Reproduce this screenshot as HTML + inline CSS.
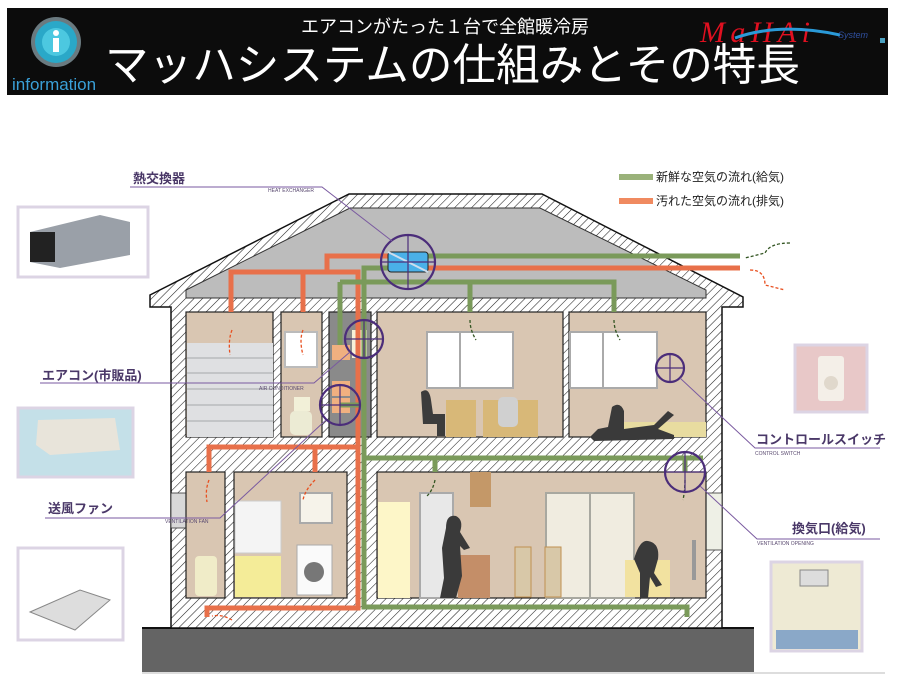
<!DOCTYPE html>
<html><head><meta charset="utf-8"><style>
body{margin:0;background:#fff;}
svg{display:block;font-family:"Liberation Sans","Noto Sans CJK JP",sans-serif;}
</style></head><body>
<svg width="903" height="685" viewBox="0 0 903 685" xmlns="http://www.w3.org/2000/svg">
<defs>
<pattern id="h" width="6" height="6" patternUnits="userSpaceOnUse" patternTransform="rotate(45)">
<rect width="6" height="6" fill="#fff"/><line x1="0" y1="0" x2="0" y2="6" stroke="#222" stroke-width="1.1"/>
</pattern>
</defs>
<rect width="903" height="685" fill="#fff"/>
<!-- header -->
<rect x="7" y="8" width="881" height="87" fill="#0c0c0c"/>
<circle cx="56" cy="42" r="25" fill="#6a7a80"/>
<circle cx="56" cy="42" r="21" fill="#2aa8c8"/>
<circle cx="56" cy="42" r="14" fill="#4cc8e0"/>
<circle cx="56" cy="33" r="3" fill="#fff"/>
<rect x="53" y="38" width="6" height="14" fill="#fff"/>
<text x="12" y="90" font-size="17" fill="#3aa0d8">information</text>
<text x="445" y="33" font-size="18" fill="#fff" text-anchor="middle" font-family="Liberation Sans,Noto Sans CJK JP,sans-serif">エアコンがたった１台で全館暖冷房</text>
<text x="105" y="80" font-size="44" fill="#fff" textLength="695" lengthAdjust="spacingAndGlyphs" font-family="Liberation Sans,Noto Sans CJK JP,sans-serif">マッハシステムの仕組みとその特長</text>
<text x="700" y="42" font-size="30" fill="#e01020" font-style="italic" font-family="Liberation Serif,serif" textLength="110">MaHAi</text>
<path d="M735 38 Q780 22 840 35" stroke="#2a9ad8" stroke-width="3" fill="none"/>
<text x="838" y="38" font-size="9" fill="#3050a0" font-style="italic">System</text>
<rect x="880" y="38" width="5" height="5" fill="#4aa0c0"/>

<!-- ground -->
<rect x="142" y="628" width="612" height="44" fill="#646464"/>
<line x1="142" y1="628" x2="754" y2="628" stroke="#111" stroke-width="2"/>
<line x1="142" y1="673" x2="885" y2="673" stroke="#ddd" stroke-width="2"/>

<!-- house body hatched -->
<path d="M150,295 L349,194 L542,194 L743,297 L743,307 L722,307 L722,628 L171,628 L171,307 L150,307 Z" fill="url(#h)" stroke="#111" stroke-width="1.5"/>
<path d="M186,290 L350,208 L540,208 L706,290 L706,298 L186,298 Z" fill="#bcbcbc" stroke="#333" stroke-width="1"/>
<!-- wall openings -->
<rect x="171" y="493" width="15" height="35" fill="#d8d8d8" stroke="#333" stroke-width="0.8"/>
<rect x="706" y="493" width="16" height="57" fill="#eef0e6" stroke="#333" stroke-width="0.8"/>

<!-- rooms 2F -->
<g fill="#d9c6b2" stroke="#222" stroke-width="1.2">
<rect x="186" y="312" width="87" height="125"/>
<rect x="281" y="312" width="41" height="125"/>
<rect x="377" y="312" width="186" height="125"/>
<rect x="569" y="312" width="137" height="125"/>
<rect x="186" y="472" width="39" height="126"/>
<rect x="234" y="472" width="113" height="126"/>
<rect x="377" y="472" width="329" height="126"/>
</g>
<rect x="329" y="312" width="42" height="125" fill="#8a8a8a" stroke="#222" stroke-width="1.2"/>

<!-- room1 shutter panel -->
<rect x="187" y="343" width="86" height="94" fill="#dfe0e2"/>
<g stroke="#b8babd" stroke-width="1.5"><line x1="187" y1="358" x2="273" y2="358"/><line x1="187" y1="373" x2="273" y2="373"/><line x1="187" y1="389" x2="273" y2="389"/><line x1="187" y1="405" x2="273" y2="405"/><line x1="187" y1="421" x2="273" y2="421"/></g>
<!-- room2 window + toilet -->
<rect x="285" y="332" width="32" height="35" fill="#fff" stroke="#bbb" stroke-width="2"/>
<rect x="294" y="397" width="16" height="14" fill="#f2f0d8"/>
<rect x="290" y="411" width="22" height="24" rx="5" fill="#ecebd4"/>
<!-- shaft boxes -->
<rect x="332" y="345" width="18" height="15" fill="#f0b080"/>
<rect x="332" y="381" width="18" height="15" fill="#f0b080"/>
<rect x="332" y="398" width="18" height="15" fill="#f0b080"/>
<rect x="352" y="330" width="15" height="28" fill="#f6f0d8"/>
<!-- room3 -->
<rect x="427" y="332" width="86" height="56" fill="#fff" stroke="#aaa" stroke-width="2"/>
<line x1="460" y1="332" x2="460" y2="388" stroke="#aaa" stroke-width="2"/>
<rect x="446" y="400" width="30" height="37" fill="#d8b878"/>
<rect x="483" y="400" width="55" height="37" fill="#d8b878"/>
<path d="M421,392 q8,-6 10,8 l2,14 l12,0 l0,22 l-8,0 l0,-12 l-14,0 z" fill="#3c3c3c"/>
<rect x="498" y="397" width="20" height="30" rx="5" fill="#d0d0d0"/>
<!-- room4 -->
<rect x="570" y="332" width="87" height="56" fill="#fff" stroke="#aaa" stroke-width="2"/>
<line x1="603" y1="332" x2="603" y2="388" stroke="#aaa" stroke-width="2"/>
<rect x="623" y="422" width="83" height="15" fill="#e8dca0"/>
<path d="M590,437 l8,-8 l10,-2 l4,-20 q8,-6 12,4 l0,18 l30,-4 l14,-14 l6,4 l-16,14 l16,6 l0,4 l-80,2z" fill="#3a3a3a"/>
<!-- 1F room A,B -->
<rect x="195" y="556" width="22" height="40" rx="4" fill="#f0ecc8"/>
<rect x="235" y="501" width="46" height="52" fill="#f4f4f4" stroke="#ccc"/>
<rect x="235" y="556" width="46" height="41" fill="#f4ec98"/>
<rect x="300" y="493" width="32" height="30" fill="#f6f3ea" stroke="#aaa" stroke-width="2"/>
<rect x="297" y="545" width="35" height="50" fill="#fafafa" stroke="#aaa"/>
<circle cx="314" cy="572" r="10" fill="#777"/>
<!-- 1F room C -->
<rect x="378" y="502" width="32" height="96" fill="#fdf6c8"/>
<rect x="420" y="493" width="33" height="105" fill="#e8e8e8" stroke="#aaa" stroke-width="2"/>
<rect x="470" y="472" width="21" height="35" fill="#c49868"/>
<rect x="458" y="555" width="32" height="43" fill="#c48e68"/>
<rect x="546" y="493" width="88" height="105" fill="#f0ece0" stroke="#a8a8a0" stroke-width="2"/>
<line x1="590" y1="493" x2="590" y2="598" stroke="#a8a8a0" stroke-width="2"/>
<rect x="515" y="547" width="16" height="50" fill="#d8c8a8" stroke="#c09050"/>
<rect x="545" y="547" width="16" height="50" fill="#d8c8a8" stroke="#c09050"/>
<rect x="625" y="560" width="45" height="37" fill="#f2e2a0"/>
<path d="M440,598 l4,-20 l-2,-30 l4,-20 q0,-14 10,-12 q8,4 4,16 l10,16 l-6,2 l-4,-4 l2,30 l-6,22z" fill="#3a3a3a"/>
<path d="M640,598 l0,-25 l-6,-14 q6,-20 14,-18 q12,2 10,18 l-4,14 l8,12 l-6,2 l-6,-10 l-2,21z" fill="#3a3a3a"/>
<rect x="692" y="540" width="4" height="40" fill="#999"/>

<!-- ducts -->
<g fill="none" stroke-width="5">
<path d="M740,268 H428" stroke="#e8704a"/>
<path d="M388,256 H327 V272 M231,312 V272 H358 V608 H207 V617 M303,312 V272 M209,472 V447 H358 M315,472 V447" stroke="#e8704a"/>
<path d="M740,256 H428" stroke="#7a9a5a"/>
<path d="M388,268 H364 V607 H687 V617 M340,282 H614 V312 M470,282 V312 M340,282 V345 M340,405 H364 M364,458 H703 M435,458 V472 M685,458 V472" stroke="#7a9a5a"/>
</g>
<rect x="388" y="252" width="40" height="20" rx="3" fill="#4ab0e8" stroke="#222"/>
<path d="M388,252 L428,272" stroke="#ccddee" stroke-width="2"/>

<!-- flow arrows dashed -->
<g fill="none" stroke-width="1.3" stroke-dasharray="3,2">
<path d="M790,243 q-20,0 -25,10 l-20,5" stroke="#335522"/>
<path d="M750,270 q15,0 15,15 l20,5" stroke="#e85020"/>
<path d="M232,330 q-4,10 -2,25" stroke="#e85020"/>
<path d="M303,330 q-4,10 0,25" stroke="#e85020"/>
<path d="M470,320 q0,10 6,20" stroke="#335522"/>
<path d="M614,320 q0,10 6,20" stroke="#335522"/>
<path d="M209,480 q-4,10 -2,22" stroke="#e85020"/>
<path d="M315,480 q-10,10 -12,20" stroke="#e85020"/>
<path d="M435,480 q-2,10 -8,16" stroke="#335522"/>
<path d="M685,480 q0,10 -2,20" stroke="#335522"/>
<path d="M232,620 q-10,-6 -20,-4" stroke="#e85020"/>
</g>

<!-- circles -->
<g fill="none" stroke="#4b2d7a" stroke-width="2.2">
<circle cx="408" cy="262" r="27"/><path d="M381,262 H435 M408,235 V289" stroke-width="1.2"/>
<circle cx="364" cy="339" r="19"/><path d="M345,339 H383 M364,320 V358" stroke-width="1.2"/>
<circle cx="340" cy="405" r="20"/><path d="M320,405 H360 M340,385 V425" stroke-width="1.2"/>
<circle cx="670" cy="368" r="14"/><path d="M656,368 H684 M670,354 V382" stroke-width="1.2"/>
<circle cx="685" cy="472" r="20"/><path d="M665,472 H705 M685,452 V492" stroke-width="1.2"/>
</g>
<!-- leader lines -->
<g fill="none" stroke="#7a5aa0" stroke-width="1">
<path d="M130,187 H322 L392,241"/>
<path d="M40,383 H314 L350,352"/>
<path d="M45,518 H220 L326,420"/>
<path d="M680,378 L755,448 H880"/>
<path d="M700,486 L757,539 H880"/>
</g>
<g font-size="5" fill="#5a4a70">
<text x="268" y="192">HEAT EXCHANGER</text>
<text x="259" y="390">AIR CONDITIONER</text>
<text x="165" y="523">VENTILATION FAN</text>
<text x="755" y="455">CONTROL SWITCH</text>
<text x="757" y="545">VENTILATION OPENING</text>
</g>
<g font-size="13" font-weight="bold" fill="#4a3868">
<text x="133" y="183">熱交換器</text>
<text x="42" y="380">エアコン(市販品)</text>
<text x="48" y="513">送風ファン</text>
<text x="756" y="444">コントロールスイッチ</text>
<text x="792" y="533">換気口(給気)</text>
</g>

<!-- legend -->
<rect x="619" y="174" width="34" height="6" fill="#9ab27a"/>
<rect x="619" y="198" width="34" height="6" fill="#f08a60"/>
<text x="656" y="181" font-size="12" fill="#222">新鮮な空気の流れ(給気)</text>
<text x="656" y="205" font-size="12" fill="#222">汚れた空気の流れ(排気)</text>

<!-- photos -->
<rect x="18" y="207" width="130" height="70" fill="#fff" stroke="#dcd4e4" stroke-width="3"/>
<path d="M30,232 L100,215 L130,222 L130,255 L60,268 L30,262Z" fill="#9aa0a8"/>
<rect x="30" y="232" width="25" height="30" fill="#222"/>
<rect x="18" y="408" width="115" height="69" fill="#c4e0e8" stroke="#dcd4e4" stroke-width="3"/>
<path d="M38,420 L115,418 L120,450 L50,455 L36,445Z" fill="#e8e4da"/>
<rect x="18" y="548" width="105" height="92" fill="#fff" stroke="#dcd4e4" stroke-width="3"/>
<path d="M30,612 L80,590 L110,600 L75,630Z" fill="#ddd" stroke="#888"/>
<rect x="795" y="345" width="72" height="67" fill="#e8c8c8" stroke="#dcd4e4" stroke-width="3"/>
<rect x="818" y="356" width="26" height="45" rx="3" fill="#f4efe8"/>
<circle cx="831" cy="383" r="7" fill="#e0d8cc"/>
<rect x="771" y="562" width="91" height="89" fill="#eeead4" stroke="#dcd4e4" stroke-width="3"/>
<rect x="800" y="570" width="28" height="16" fill="#ddd" stroke="#888"/>
<rect x="776" y="630" width="82" height="19" fill="#8aa8c8"/>
</svg>
</body></html>
